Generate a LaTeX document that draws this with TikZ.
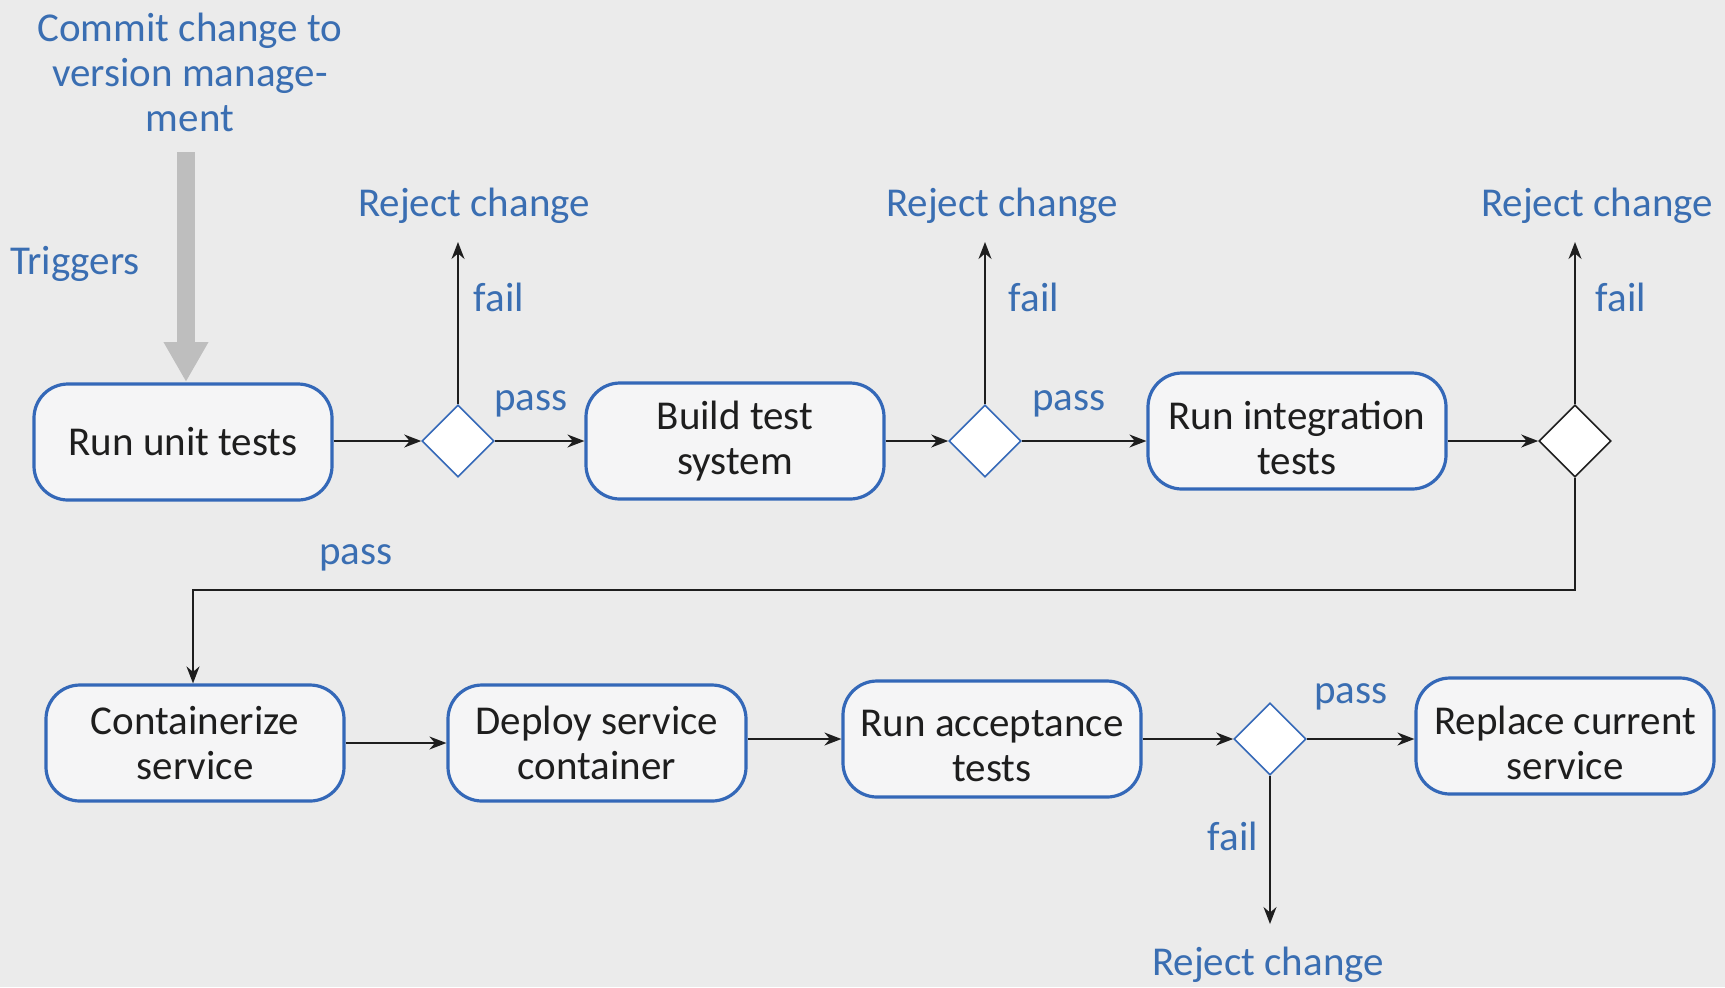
\documentclass[tikz,border=0pt]{standalone}
\usepackage{fontspec}
\setmainfont{Carlito}
\usetikzlibrary{shapes.geometric,arrows.meta,calc}
\definecolor{bg}{RGB}{235,235,235}
\definecolor{txtblue}{RGB}{58,110,178}
\definecolor{boxblue}{RGB}{52,104,184}
\definecolor{boxfill}{RGB}{245,245,246}
\definecolor{dark}{RGB}{30,30,30}
\definecolor{arrowgray}{RGB}{190,190,190}
\begin{document}
\begin{tikzpicture}[x=0.5pt,y=-0.5pt,
  txt/.style={font=\fontsize{20.5}{22.5}\selectfont},
  proctext/.style={txt, text=dark, align=center, inner sep=0pt},
  proc/.style={txt, draw=boxblue, line width=1.6pt, fill=boxfill, rounded corners=17pt,
    minimum width=149pt, minimum height=58pt, align=center, text=dark, inner sep=0pt},
  dec/.style={diamond, draw=boxblue, line width=0.8pt, fill=white,
    minimum width=36pt, minimum height=36pt, inner sep=0pt},
  lab/.style={txt, text=txtblue, inner sep=0pt, align=center},
  flow/.style={draw=dark, line width=0.9pt, -{Stealth[length=8.5pt,width=6.5pt]}},
  bigarrow/.style={draw=arrowgray, line width=9pt, -{Triangle[width=21pt,length=20pt]}}
]
\fill[bg] (0,0) rectangle (1725,987);
\useasboundingbox (0,0) rectangle (1725,987);

% labels
\node[lab] (commit) at (190,72) {Commit change to\\version manage-\\ment};
\node[lab] (trig) at (75,264) {Triggers};

% row 1
\node[proc] (unit) at (183,442) {Run unit tests};
\node[dec] (d1) at (458,441) {};
\node[proc] (build) at (735,441) {Build test\\system};
\node[dec] (d2) at (985,441) {};
\node[proc, label={[proctext,yshift=-3.5pt]center:Run integration\\tests}] (integ) at (1297,431) {};
\node[dec, draw=dark] (d3) at (1575,441) {};

% row 2
\node[proc] (cont) at (195,743) {Containerize\\service};
\node[proc] (deploy) at (597,743) {Deploy service\\container};
\node[proc, label={[proctext,yshift=-3.5pt]center:Run acceptance\\tests}] (accept) at (992,739) {};
\node[dec] (d4) at (1270,739) {};
\node[proc, label={[proctext,yshift=-3.5pt]center:Replace current\\service}] (repl) at (1565,736) {};

% reject targets
\coordinate (r1) at (458,242);
\coordinate (r2) at (985,242);
\coordinate (r3) at (1575,242);
\coordinate (r4) at (1270,924);
\node[lab] (rej1) at (474,206) {Reject change};
\node[lab] (rej2) at (1002,206) {Reject change};
\node[lab] (rej3) at (1597,206) {Reject change};
\node[lab] (rej4) at (1268,965) {Reject change};

% labels on edges
\node[lab] (f1) at (499,297) {fail};
\node[lab] (f2) at (1034,297) {fail};
\node[lab] (f3) at (1621,297) {fail};
\node[lab] (f4) at (1233,836) {fail};
\node[lab] (p1) at (531,404) {pass};
\node[lab] (p2) at (1069,404) {pass};
\node[lab] (p3) at (356,558) {pass};
\node[lab] (p4) at (1351,697) {pass};

% trigger arrow
\draw[bigarrow] (186,152) -- (186,382);

% flows row 1
\draw[flow] (unit.east |- d1) -- (d1.west);
\draw[flow] (d1.east) -- (d1 -| build.west);
\draw[flow] (build.east |- d2) -- (d2.west);
\draw[flow] (d2.east) -- (d2 -| integ.west);
\draw[flow] (integ.east |- d3) -- (d3.west);
\draw[flow] (d1.north) -- (r1);
\draw[flow] (d2.north) -- (r2);
\draw[flow] (d3.north) -- (r3);

% loop
\coordinate (lr) at (1575,590);
\coordinate (ll) at (193,590);
\draw[flow] (d3.south) -- (lr) -- (ll) -- (ll |- cont.north);

% flows row 2
\draw[flow] (cont.east) -- (deploy.west);
\draw[flow] (deploy.east |- accept) -- (accept.west);
\draw[flow] (accept.east) -- (d4.west);
\draw[flow] (d4.east) -- (d4 -| repl.west);
\draw[flow] (d4.south) -- (r4);
\end{tikzpicture}
\end{document}
